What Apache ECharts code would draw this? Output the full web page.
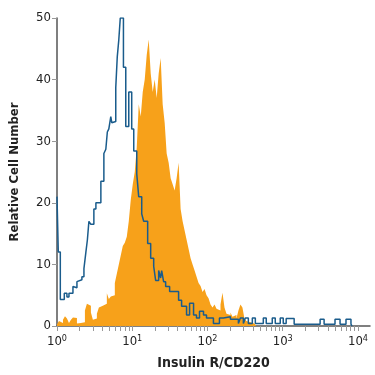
<!DOCTYPE html>
<html>
<head>
<meta charset="utf-8">
<script src="https://cdn.jsdelivr.net/npm/echarts@6/dist/echarts.min.js"></script>
<style>
  html, body { margin: 0; padding: 0; background: #fff; }
  #histChart { width: 375px; height: 375px; }
</style>
</head>
<body>
<div id="histChart"></div>
<script>
// x values are log10 of fluorescence intensity (decades)
var decades = [0, 1, 2, 3, 4];
var tickMultipliers = [1, 2, 3, 4, 5, 6, 7, 8, 9];
var yTicks = [0, 10, 20, 30, 40, 50];

// stained sample (orange fill) - bin counts, bins of equal width in decades
var orangeBinWidth = 0.0265;
var orangeCounts = [
  0.3, 0.8, 0.5, 1.0, 1.6, 1.2, 0.5, 1.0, 1.4, 1.3,
  0.4, 0.5, 0.4, 0.6, 2.5, 3.6, 3.3, 2.2, 1.0, 1.2,
  2.0, 3.0, 3.3, 3.0, 3.6, 5.3, 4.4, 4.8, 5.0, 7.0,
  8.5, 10, 11.5, 13, 13.5, 14.5, 17, 20.5, 23, 25,
  29, 36, 34, 38, 40, 44, 46.5, 41, 38, 40,
  37, 41, 43.5, 36, 33, 28, 26.5, 24, 23, 22,
  24, 26.5, 19, 17, 15.5, 14, 12.5, 11, 10, 9,
  8, 7, 6.5, 5.5, 6, 5, 4.5, 3.5, 3, 3.5,
  2.8, 2.5, 3.5, 5.4, 3, 2, 1.8, 2.2, 1.5, 1.8,
  1.2, 2.5, 3.5, 3, 1.2, 0.8, 0.6, 0.5, 0.4, 0.3,
  0
];

// isotype control (blue outline) - step left edges (decades) and counts
var blueEdges = [
  0.000, 0.017, 0.044, 0.097, 0.132, 0.159, 0.212, 0.238, 0.265, 0.291,
  0.331, 0.358, 0.384, 0.404, 0.424, 0.450, 0.490, 0.517, 0.583, 0.623,
  0.649, 0.669, 0.689, 0.715, 0.728, 0.748, 0.781, 0.801, 0.821, 0.841,
  0.883, 0.914, 0.954, 0.993, 1.020, 1.060, 1.086, 1.126, 1.152, 1.205,
  1.245, 1.285, 1.311, 1.351, 1.377, 1.391, 1.417, 1.444, 1.497, 1.616,
  1.656, 1.722, 1.762, 1.815, 1.854, 1.894, 1.947, 1.987, 2.079, 2.159,
  2.212, 2.305, 2.411, 2.437, 2.477, 2.503, 2.543, 2.596, 2.636, 2.742,
  2.781, 2.861, 2.901, 2.967, 3.007, 3.046, 3.152, 3.497, 3.550, 3.695,
  3.762, 3.841, 3.907, 3.921
];
var blueCounts = [
  21, 12, 4.3, 5.3, 4.7, 5.3, 6.4, 6.2, 7.2, 7.5,
  8.0, 9.3, 12, 14, 17, 16.5, 19, 20, 23.5, 28,
  28.7, 31.5, 32, 34, 33, 33.2, 38.7, 43.7, 46.4, 50,
  42, 32.4, 38, 32, 28.4, 24.7, 21, 18.2, 17, 13.4,
  11, 9.7, 7.4, 9, 7.8, 9, 7.2, 6.4, 5.6, 4.2,
  3.2, 1.8, 3.7, 1.8, 1.3, 2.4, 1.8, 1.3, 0.4, 1.3,
  1.5, 1.1, 0.4, 1.3, 0.4, 1.3, 0.4, 1.3, 0.4, 1.3,
  0.4, 1.3, 0.4, 1.3, 0.4, 1.2, 0.3, 1.1, 0.3, 1.1,
  0.3, 1.1, 0.3, 0
];

var orangeColor = '#F7A11A';
var blueColor = '#1A5C8C';
var font = '"Liberation Sans Narrow", "DejaVu Sans Condensed", "Open Sans", sans-serif';

var tickValues = [];
decades.forEach(function (d) {
  tickMultipliers.forEach(function (m) {
    var v = d + Math.log10(m);
    if (v <= 4.16) tickValues.push(v);
  });
});

var orangeData = orangeCounts.map(function (c, i) { return [i * orangeBinWidth, c]; });
var blueData = blueEdges.map(function (e, i) { return [e, blueCounts[i]]; });

var histChart = echarts.init(document.getElementById('histChart'));
histChart.setOption({
  animation: false,
  grid: { left: 56, right: 5, top: 18, bottom: 47 },
  xAxis: {
    type: 'value',
    min: 0,
    max: 4.16,
    name: 'Insulin R/CD220',
    nameLocation: 'middle',
    nameGap: 30,
    nameTextStyle: { fontFamily: font, fontSize: 14, fontWeight: 'bold', color: '#222' },
    axisLine: { lineStyle: { color: '#555', width: 1.5 } },
    axisTick: { customValues: tickValues, length: 5, lineStyle: { color: '#999' } },
    axisLabel: {
      customValues: decades,
      margin: 8,
      formatter: function (v) { return '{b|10}{s|' + v + '}'; },
      rich: {
        b: { fontFamily: font, fontSize: 13, color: '#222', lineHeight: 16 },
        s: { fontFamily: font, fontSize: 9, color: '#222', verticalAlign: 'top', lineHeight: 16, padding: [0, 0, 6, 0] }
      }
    },
    splitLine: { show: false }
  },
  yAxis: {
    type: 'value',
    min: 0,
    max: 50,
    interval: 10,
    name: 'Relative Cell Number',
    nameLocation: 'middle',
    nameGap: 36,
    nameTextStyle: { fontFamily: font, fontSize: 13, fontWeight: 'bold', color: '#222' },
    axisLine: { show: true, lineStyle: { color: '#555', width: 1.5 } },
    axisTick: { show: true, length: 5, lineStyle: { color: '#999' } },
    axisLabel: { fontFamily: font, fontSize: 13, color: '#222', margin: 6 },
    splitLine: { show: false }
  },
  series: [
    {
      name: 'stained',
      type: 'line',
      step: 'end',
      data: orangeData,
      showSymbol: false,
      lineStyle: { width: 0 },
      areaStyle: { color: orangeColor, opacity: 1 },
      z: 2
    },
    {
      name: 'isotype',
      type: 'line',
      step: 'end',
      data: blueData,
      showSymbol: false,
      lineStyle: { color: blueColor, width: 1.5 },
      z: 3
    }
  ]
});
</script>
</body>
</html>
